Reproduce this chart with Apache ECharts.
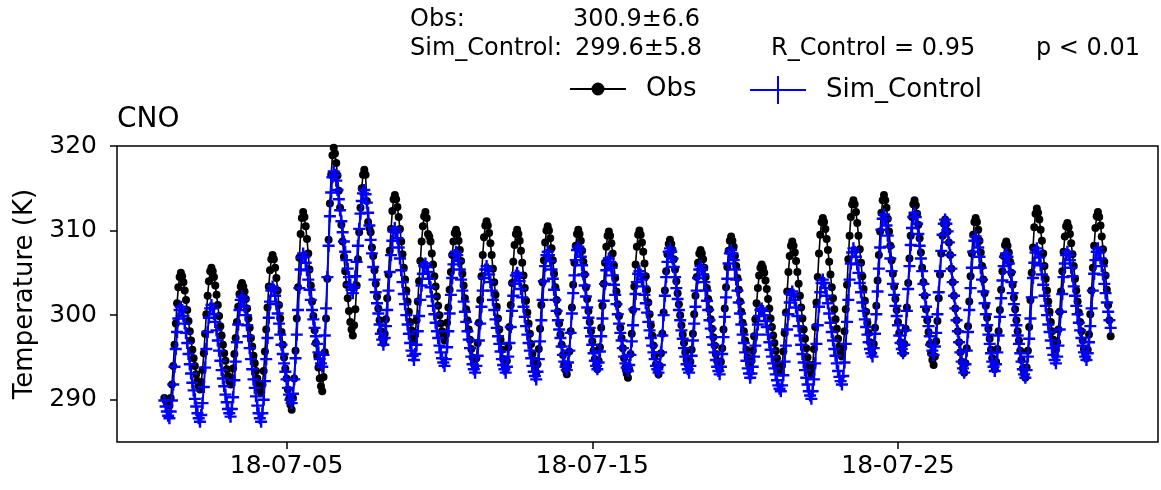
<!DOCTYPE html>
<html>
<head>
<meta charset="utf-8">
<script src="https://cdn.jsdelivr.net/npm/echarts@6/dist/echarts.min.js"></script>
<style>
html, body { margin: 0; padding: 0; background: #fff; }
#main { width: 1161px; height: 490px; }
</style>
</head>
<body>
<div id="main"></div>
<script>
// hourly 2 m temperature (K), one row per day, 00h..23h, 2018-07-01 .. 2018-07-31
var obsByDay = [
	[290.2,289.9,289.6,289.4,289.3,290.2,291.8,294.0,296.5,299.0,301.4,303.3,304.5,305.0,304.6,303.9,302.9,301.8,300.6,299.3,298.1,297.0,295.9,294.9],
	[294.0,293.0,292.2,291.6,291.2,292.1,293.5,295.5,297.8,300.1,302.3,304.0,305.2,305.6,305.2,304.5,303.5,302.4,301.2,299.9,298.7,297.6,296.5,295.5],
	[294.6,293.6,292.8,292.2,291.8,292.5,293.7,295.4,297.3,299.2,301.0,302.5,303.4,303.8,303.4,302.8,301.9,300.8,299.6,298.5,297.3,296.3,295.2,294.3],
	[293.4,292.5,291.7,291.2,290.8,291.8,293.4,295.7,298.3,300.9,303.4,305.3,306.6,307.1,306.6,305.6,304.4,302.9,301.2,299.6,298.0,296.5,295.0,293.7],
	[292.5,291.2,290.1,289.4,288.8,290.2,292.5,295.8,299.6,303.3,306.8,309.6,311.5,312.2,311.6,310.5,309.0,307.3,305.4,303.5,301.6,299.9,298.2,296.7],
	[295.2,293.8,292.5,291.6,291.0,292.7,295.6,299.6,304.3,308.9,313.2,316.6,318.9,319.8,319.1,318.0,316.5,314.7,312.7,310.7,308.7,306.9,305.2,303.6],
	[302.0,300.5,299.2,298.3,297.6,298.8,300.7,303.5,306.6,309.8,312.7,315.0,316.6,317.2,316.6,313.5,311.0,310.3,309.8,308.0,307.0,305.3,303.7,302.2],
	[300.8,299.4,298.1,297.3,296.7,297.8,299.5,302.0,304.8,307.6,310.2,312.3,313.7,314.2,313.7,312.8,311.6,310.2,308.7,307.2,305.6,304.2,302.9,301.6],
	[300.4,299.2,298.2,297.5,297.0,297.9,299.4,301.6,304.0,306.4,308.7,310.5,311.7,312.2,311.5,309.6,309.3,308.7,307.3,306.0,304.6,303.4,302.2,301.1],
	[300.0,299.0,298.1,297.5,297.0,297.8,299.1,300.9,303.0,305.1,307.1,308.7,309.7,310.1,309.6,308.8,307.7,306.4,304.9,303.5,302.0,300.7,299.4,298.3],
	[297.1,296.0,295.0,294.4,293.9,294.9,296.7,299.1,301.8,304.6,307.1,309.2,310.6,311.1,310.6,309.7,308.5,307.1,305.5,303.9,302.4,301.0,299.6,298.3],
	[297.1,295.9,294.8,294.1,293.6,294.6,296.2,298.6,301.2,303.8,306.3,308.3,309.6,310.1,309.6,308.8,307.6,306.2,304.7,303.2,301.7,300.3,299.0,297.8],
	[296.6,295.4,294.4,293.7,293.2,294.2,296.0,298.4,301.2,303.9,306.5,308.6,310.0,310.5,310.0,309.1,307.9,306.5,304.9,303.3,301.8,300.4,299.0,297.7],
	[296.5,295.3,294.2,293.5,293.0,294.0,295.7,298.1,300.9,303.6,306.2,308.2,309.6,310.1,309.6,308.8,307.6,306.3,304.8,303.3,301.9,300.5,299.2,298.1],
	[296.9,295.8,294.8,294.1,293.6,294.6,296.2,298.5,301.1,303.7,306.2,308.1,309.4,309.9,309.4,308.5,307.3,305.9,304.4,302.8,301.3,299.9,298.5,297.3],
	[296.1,294.9,293.8,293.1,292.6,293.6,295.4,297.8,300.6,303.4,306.0,308.1,309.5,310.0,309.5,308.6,307.5,306.1,304.6,303.0,301.5,300.1,298.8,297.6],
	[296.4,295.2,294.2,293.5,293.0,294.0,295.5,297.8,300.3,302.9,305.2,307.2,308.4,308.9,308.4,307.7,306.6,305.4,304.0,302.6,301.3,300.0,298.8,297.7],
	[296.7,295.6,294.7,294.1,293.6,294.5,295.9,297.8,300.1,302.3,304.5,306.2,307.3,307.7,307.3,306.6,305.6,304.5,303.2,301.9,300.7,299.5,298.4,297.4],
	[296.4,295.4,294.6,294.0,293.6,294.5,296.1,298.3,300.8,303.3,305.7,307.6,308.8,309.3,308.8,308.1,307.0,305.8,304.4,303.0,301.6,300.4,299.1,298.1],
	[297.0,295.9,295.0,294.4,293.9,294.6,295.8,297.5,299.5,301.4,303.2,304.7,305.6,306.0,305.6,305.0,304.1,303.1,301.9,300.8,299.6,298.6,297.6,296.7],
	[295.8,294.9,294.1,293.6,293.2,294.1,295.7,297.9,300.3,302.8,305.1,307.0,308.2,308.7,308.2,307.4,306.4,305.1,303.7,302.3,300.9,299.6,298.3,297.2],
	[296.1,295.0,294.1,293.5,293.0,294.1,296.0,298.6,301.5,304.5,307.3,309.5,311.0,311.5,311.0,310.2,309.0,307.7,306.3,304.8,303.3,302.0,300.7,299.5],
	[298.4,297.2,296.3,295.6,295.1,296.2,298.1,300.7,303.6,306.6,309.4,311.6,313.1,313.6,313.1,312.2,310.9,309.4,307.8,306.2,304.6,303.1,301.7,300.4],
	[299.1,297.9,296.8,296.0,295.5,296.6,298.5,301.1,304.1,307.1,309.9,312.1,313.6,314.2,313.6,312.7,311.4,309.9,308.2,306.5,304.9,303.4,301.9,300.6],
	[299.2,297.9,296.8,296.1,295.5,296.6,298.4,300.9,303.8,306.7,309.4,311.6,313.1,313.6,313.0,312.0,310.7,309.1,307.4,305.6,303.9,302.3,300.7,299.4],
	[298.0,296.6,295.5,294.7,294.1,295.1,296.9,299.3,302.0,304.8,307.3,309.4,310.8,311.3,310.8,309.9,308.6,307.1,305.5,303.9,302.3,300.8,299.4,298.1],
	[296.8,295.6,294.5,293.7,293.2,294.3,296.1,298.7,301.6,304.6,307.3,309.5,311.0,311.5,311.0,310.1,308.8,307.4,305.8,304.2,302.6,301.1,299.7,298.4],
	[297.2,295.9,294.9,294.1,293.6,294.5,296.0,298.1,300.6,303.0,305.2,307.0,308.3,308.7,308.2,307.4,306.3,305.0,303.6,302.1,300.7,299.4,298.1,297.0],
	[295.8,294.7,293.7,293.1,292.6,293.8,295.8,298.6,301.8,305.0,308.0,310.4,312.0,312.6,312.1,311.3,310.1,308.8,307.3,305.8,304.3,302.9,301.6,300.4],
	[299.2,298.1,297.1,296.4,295.9,296.8,298.3,300.4,302.8,305.2,307.5,309.3,310.5,310.9,310.4,309.6,308.5,307.2,305.8,304.3,302.9,301.6,300.3,299.2],
	[298.1,297.0,296.0,295.4,294.9,295.9,297.7,300.1,302.9,305.6,308.2,310.3,311.7,312.2,311.6,310.6,309.3,307.8,306.3,304.7,303.0,301.2,299.4,297.5]
]
var simByDay = [
	[289.9,289.2,288.6,288.1,287.8,288.6,289.9,291.8,293.9,296.0,298.0,299.6,300.6,301.0,300.6,299.9,299.0,297.9,296.7,295.4,294.2,293.1,292.0,291.1],
	[290.1,289.2,288.4,287.8,287.4,288.2,289.6,291.5,293.8,296.0,298.0,299.7,300.8,301.2,300.8,300.1,299.2,298.2,297.0,295.8,294.6,293.5,292.5,291.6],
	[290.6,289.7,288.9,288.4,288.0,288.9,290.3,292.3,294.5,296.8,298.9,300.6,301.8,302.2,301.8,301.0,300.0,298.8,297.5,296.1,294.8,293.6,292.4,291.4],
	[290.4,289.3,288.4,287.8,287.4,288.4,290.0,292.2,294.8,297.3,299.7,301.6,302.9,303.4,303.0,302.3,301.3,300.2,299.0,297.7,296.5,295.4,294.3,293.3],
	[292.4,291.4,290.6,290.0,289.6,290.7,292.4,294.9,297.7,300.6,303.2,305.4,306.8,307.3,306.9,306.2,305.3,304.2,303.0,301.8,300.6,299.5,298.5,297.5],
	[296.6,295.6,294.8,294.3,293.9,295.3,297.6,300.8,304.5,308.2,311.7,314.5,316.3,317.0,316.6,315.9,314.8,313.7,312.4,311.1,309.8,308.7,307.5,306.5],
	[305.5,304.5,303.6,303.0,302.6,303.3,304.6,306.3,308.2,310.2,312.0,313.5,314.4,314.8,314.3,313.3,312.1,310.6,308.9,307.3,305.7,304.2,302.7,301.4],
	[300.2,298.9,297.8,297.1,296.5,297.3,298.7,300.6,302.9,305.1,307.1,308.8,309.9,310.3,309.8,309.1,308.0,306.7,305.3,303.9,302.5,301.3,300.0,298.9],
	[297.8,296.7,295.8,295.2,294.7,295.4,296.5,298.1,299.9,301.8,303.5,304.9,305.8,306.1,305.7,305.1,304.3,303.3,302.2,301.1,300.1,299.1,298.1,297.3],
	[296.4,295.6,294.9,294.4,294.0,294.8,296.2,298.1,300.2,302.4,304.4,306.0,307.1,307.5,307.1,306.4,305.4,304.2,302.9,301.6,300.4,299.2,298.1,297.1],
	[296.1,295.1,294.2,293.6,293.2,294.0,295.2,297.0,299.0,301.0,302.9,304.4,305.4,305.8,305.4,304.8,303.9,302.9,301.8,300.6,299.5,298.5,297.5,296.6],
	[295.7,294.8,294.1,293.6,293.2,293.9,295.1,296.7,298.6,300.5,302.3,303.7,304.7,305.0,304.6,304.0,303.1,302.1,301.0,299.8,298.7,297.7,296.7,295.8],
	[294.9,294.0,293.3,292.8,292.4,293.3,294.8,296.9,299.4,301.8,304.0,305.8,307.1,307.5,307.1,306.4,305.4,304.3,303.0,301.8,300.5,299.4,298.3,297.3],
	[296.3,295.3,294.5,293.9,293.5,294.4,295.8,297.9,300.2,302.6,304.7,306.5,307.7,308.1,307.7,306.9,305.9,304.8,303.5,302.2,300.9,299.7,298.5,297.5],
	[296.5,295.5,294.6,294.0,293.6,294.4,295.7,297.5,299.6,301.7,303.7,305.3,306.3,306.7,306.3,305.6,304.7,303.6,302.4,301.3,300.1,299.0,297.9,297.0],
	[296.1,295.1,294.3,293.8,293.4,294.1,295.3,296.9,298.8,300.7,302.5,303.9,304.9,305.2,304.8,304.2,303.4,302.4,301.4,300.3,299.2,298.2,297.3,296.4],
	[295.6,294.8,294.0,293.6,293.2,294.1,295.6,297.6,300.0,302.3,304.5,306.3,307.5,307.9,307.5,306.7,305.7,304.5,303.2,301.9,300.6,299.4,298.2,297.2],
	[296.1,295.1,294.2,293.6,293.2,294.0,295.2,297.0,299.0,301.0,302.9,304.4,305.4,305.8,305.4,304.8,303.9,302.9,301.7,300.6,299.4,298.4,297.4,296.5],
	[295.6,294.7,293.9,293.4,293.0,293.9,295.4,297.4,299.8,302.1,304.3,306.1,307.3,307.7,307.3,306.5,305.4,304.2,302.9,301.5,300.2,298.9,297.7,296.7],
	[295.6,294.6,293.7,293.1,292.6,293.1,293.9,295.1,296.4,297.7,298.9,299.9,300.6,300.8,300.5,300.0,299.3,298.6,297.7,296.8,295.9,295.1,294.3,293.7],
	[293.0,292.3,291.7,291.3,291.0,291.7,292.9,294.5,296.4,298.3,300.1,301.5,302.5,302.8,302.4,301.8,300.9,299.9,298.7,297.6,296.5,295.4,294.4,293.5],
	[292.6,291.8,291.0,290.5,290.1,291.0,292.4,294.3,296.6,298.8,301.0,302.7,303.8,304.2,303.8,303.2,302.3,301.4,300.2,299.1,298.0,297.0,296.0,295.2],
	[294.3,293.4,292.7,292.2,291.8,292.8,294.4,296.6,299.2,301.8,304.2,306.1,307.4,307.9,307.5,306.9,306.0,305.0,303.8,302.7,301.5,300.5,299.5,298.6],
	[297.7,296.8,296.0,295.5,295.1,296.1,297.8,300.1,302.8,305.5,308.0,310.1,311.4,311.9,311.4,310.6,309.4,308.1,306.7,305.2,303.7,302.4,301.1,299.9],
	[298.8,297.6,296.7,296.0,295.5,296.5,298.2,300.5,303.1,305.8,308.3,310.3,311.6,312.1,311.6,310.8,309.6,308.2,306.7,305.2,303.7,302.4,301.0,299.8],
	[298.7,297.5,296.5,295.8,295.3,296.3,297.9,300.1,302.7,305.2,307.6,309.5,310.8,311.3,310.8,309.9,308.6,307.1,305.5,303.9,302.3,300.8,299.4,298.1],
	[296.8,295.6,294.5,293.7,293.2,294.2,295.8,298.0,300.6,303.2,305.6,307.5,308.8,309.3,308.8,308.0,306.9,305.6,304.2,302.8,301.4,300.1,298.8,297.7],
	[296.6,295.5,294.5,293.9,293.4,294.2,295.6,297.6,299.8,302.0,304.1,305.8,306.9,307.3,306.9,306.1,305.1,303.9,302.6,301.3,300.0,298.8,297.6,296.6],
	[295.5,294.5,293.6,293.0,292.6,293.5,295.1,297.2,299.6,302.1,304.4,306.2,307.4,307.9,307.5,306.8,305.9,304.8,303.6,302.3,301.1,300.0,298.9,298.0],
	[297.0,296.1,295.3,294.7,294.3,295.1,296.4,298.3,300.4,302.5,304.5,306.1,307.1,307.5,307.1,306.5,305.6,304.6,303.4,302.3,301.1,300.1,299.1,298.2],
	[297.3,296.4,295.6,295.1,294.7,295.5,296.8,298.7,300.8,302.9,304.9,306.5,307.5,307.9,307.4,306.7,305.8,304.8,303.7,302.6,301.5,300.4,299.4,298.5]
]
var xTickDays = [5, 15, 25] // July 2018
var yTicks = [290, 300, 310, 320]
var stationName = 'CNO'
var obsStat = '300.9±6.6'
var simStat = '299.6±5.8'
var rText = 'R_Control = 0.95'
var pText = 'p < 0.01'

var FONT = 'DejaVu Sans'
var PLUS = 'path://M0,4H10V6H0Z M4,0H6V10H4Z'
// legend handles: line with a dot, line with a tall cross
var OBS_ICON = 'path://M0,5.6H56V7.4H0Z M34.5,6.5A6.5,6.5 0 1 1 21.5,6.5A6.5,6.5 0 1 1 34.5,6.5Z'
var SIM_ICON = 'path://M0,13H56V15H0Z M27,0H29V28H27Z'

function toSeries(rows) {
	var out = []
	rows.forEach(function(row, d) {
		row.forEach(function(v, h) {
			out.push([new Date(2018, 6, 1 + d, h).getTime(), v])
		})
	})
	return out
}

function pad(n) {
	return n < 10 ? '0' + n : '' + n
}

function txt(s, x, y) {
	return { type: 'text', left: x, top: y, style: { text: s, fontFamily: FONT, fontSize: 24, fill: '#000' } }
}

var obsData = toSeries(obsByDay)
var simData = toSeries(simByDay)
var t0 = obsData[0][0]
var t1 = obsData[obsData.length - 1][0]
var margin = (t1 - t0) * 0.05 // matplotlib default x margin
var xTicks = xTickDays.map(function(d) {
	return new Date(2018, 6, d).getTime()
})

var option = {
	animation: false,
	backgroundColor: '#fff',
	textStyle: { fontFamily: FONT, color: '#000' },
	title: {
		text: stationName,
		left: 117,
		top: 106,
		padding: 0,
		textStyle: { fontFamily: FONT, fontSize: 28, fontWeight: 'normal', color: '#000' }
	},
	graphic: [
		txt('Obs:', 410, 8),
		txt(obsStat, 573, 8),
		txt('Sim_Control:', 410, 37),
		txt(simStat, 575, 37),
		txt(rText, 771, 37),
		txt(pText, 1036, 37)
	],
	legend: [
		{
			data: [{ name: 'Obs', icon: OBS_ICON }],
			left: 565,
			top: 71,
			itemWidth: 56,
			itemHeight: 13,
			textStyle: { fontFamily: FONT, fontSize: 26, color: '#000', padding: [0, 0, 0, 15] }
		},
		{
			data: [{ name: 'Sim_Control', icon: SIM_ICON }],
			left: 745,
			top: 71,
			itemWidth: 56,
			itemHeight: 28,
			textStyle: { fontFamily: FONT, fontSize: 26, color: '#000', padding: [0, 0, 0, 15] }
		}
	],
	grid: {
		left: 117,
		right: 3,
		top: 146,
		bottom: 48,
		show: true,
		borderColor: '#000',
		borderWidth: 1.5,
		backgroundColor: 'transparent'
	},
	xAxis: {
		type: 'value',
		min: t0 - margin,
		max: t1 + margin,
		splitLine: { show: false },
		axisLine: { show: false },
		axisTick: {
			show: true,
			length: 7,
			lineStyle: { color: '#000', width: 1.5 },
			customValues: xTicks
		},
		axisLabel: {
			fontFamily: FONT,
			fontSize: 25,
			color: '#000',
			margin: 12,
			customValues: xTicks,
			formatter: function(v) {
				var d = new Date(v)
				return String(d.getFullYear()).slice(2) + '-' + pad(d.getMonth() + 1) + '-' + pad(d.getDate())
			}
		}
	},
	yAxis: {
		type: 'value',
		min: 285,
		max: 320,
		name: 'Temperature (K)',
		nameLocation: 'middle',
		nameRotate: 90,
		nameGap: 76,
		nameTextStyle: { fontFamily: FONT, fontSize: 26, color: '#000' },
		splitLine: { show: false },
		axisLine: { show: false },
		axisTick: {
			show: true,
			length: 7,
			lineStyle: { color: '#000', width: 1.5 },
			customValues: yTicks
		},
		axisLabel: {
			fontFamily: FONT,
			fontSize: 25,
			color: '#000',
			margin: 20,
			customValues: yTicks
		}
	},
	series: [
		{
			name: 'Obs',
			type: 'line',
			data: obsData,
			symbol: 'circle',
			symbolSize: 8,
			showSymbol: true,
			color: '#000',
			lineStyle: { color: '#000', width: 1.6 },
			itemStyle: { color: '#000' },
			z: 2
		},
		{
			name: 'Sim_Control',
			type: 'line',
			data: simData,
			symbol: PLUS,
			symbolSize: 12,
			showSymbol: true,
			color: '#0000ff',
			lineStyle: { color: '#0000ff', width: 2 },
			itemStyle: { color: '#0000ff' },
			z: 3
		}
	]
}

var myChart = echarts.init(document.getElementById('main'))
myChart.setOption(option)
</script>
</body>
</html>
